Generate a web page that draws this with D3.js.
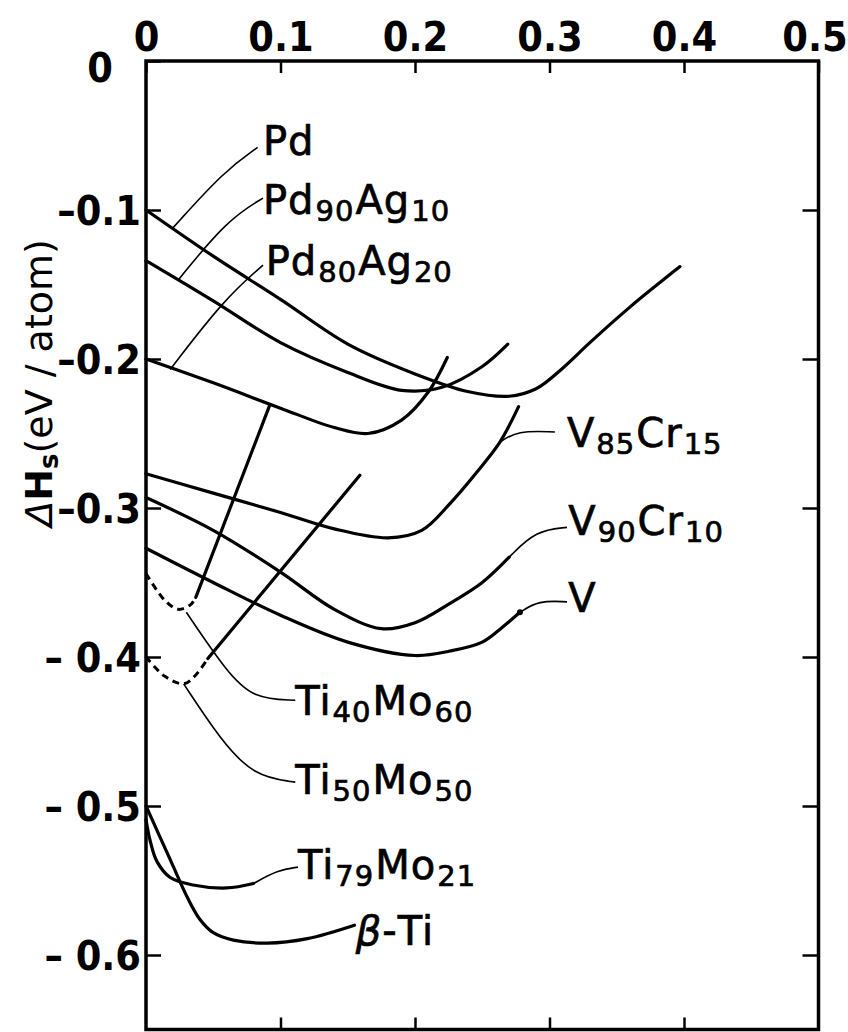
<!DOCTYPE html>
<html><head><meta charset="utf-8">
<script src="https://cdn.jsdelivr.net/npm/d3@7"></script>
<style>body{margin:0;background:#fff}svg{display:block}</style>
</head><body><svg id="c" width="848" height="1032"></svg>
<script>
// ---- axis ticks ----
const xTicks = [0, 0.1, 0.2, 0.3, 0.4, 0.5];
const xTickLabels = ["0", "0.1", "0.2", "0.3", "0.4", "0.5"];
const yTicks = [0, -0.1, -0.2, -0.3, -0.4, -0.5, -0.6];
const yTickLabels = ["0", "–0.1", "–0.2", "–0.3", "– 0.4", "– 0.5", "– 0.6"];

// ---- series (x = hydrogen content, y = ΔHs in eV/atom) ----
const pd = [[0,-0.100],[0.05,-0.131],[0.10,-0.160],[0.15,-0.190],[0.20,-0.210],[0.24,-0.222],[0.27,-0.225],[0.29,-0.220],[0.31,-0.206],[0.33,-0.189],[0.36,-0.165],[0.397,-0.138]];
const pd90ag10 = [[0,-0.134],[0.05,-0.161],[0.10,-0.189],[0.15,-0.209],[0.19,-0.221],[0.22,-0.219],[0.25,-0.205],[0.269,-0.190]];
const pd80ag20 = [[0,-0.200],[0.05,-0.216],[0.10,-0.233],[0.14,-0.246],[0.165,-0.250],[0.19,-0.241],[0.21,-0.222],[0.224,-0.199]];
const v85cr15 = [[0,-0.277],[0.05,-0.290],[0.10,-0.303],[0.14,-0.314],[0.18,-0.320],[0.205,-0.315],[0.226,-0.297],[0.245,-0.277],[0.263,-0.256],[0.277,-0.232]];
const v90cr10 = [[0,-0.293],[0.05,-0.315],[0.10,-0.343],[0.14,-0.368],[0.175,-0.381],[0.20,-0.377],[0.226,-0.364],[0.25,-0.350],[0.27,-0.333]];
const vPure = [[0,-0.327],[0.05,-0.350],[0.10,-0.372],[0.15,-0.390],[0.20,-0.399],[0.226,-0.396],[0.25,-0.390],[0.265,-0.380],[0.278,-0.370]];
const ti40mo60Dashed = [[0,-0.344],[0.014,-0.362],[0.024,-0.368],[0.033,-0.365],[0.037,-0.360]];
const ti40mo60Solid = [[0.037,-0.360],[0.092,-0.231]];
const ti50mo50Dashed = [[0,-0.400],[0.014,-0.413],[0.028,-0.418],[0.036,-0.413],[0.046,-0.401]];
const ti50mo50Solid = [[0.046,-0.401],[0.159,-0.278]];
const ti79mo21 = [[0,-0.509],[0.003,-0.523],[0.008,-0.537],[0.018,-0.548],[0.035,-0.553],[0.06,-0.555],[0.08,-0.552]];
const betaTi = [[0,-0.500],[0.01,-0.520],[0.02,-0.540],[0.03,-0.560],[0.04,-0.576],[0.05,-0.585],[0.065,-0.590],[0.09,-0.592],[0.12,-0.589],[0.155,-0.580]];

// ---- leader lines (data units) ----
const leaders = [
  [[0.020,-0.112],[0.058,-0.074],[0.083,-0.058]],
  [[0.024,-0.147],[0.060,-0.107],[0.087,-0.092]],
  [[0.018,-0.207],[0.058,-0.160],[0.087,-0.137]],
  [[0.263,-0.256],[0.276,-0.248],[0.304,-0.249]],
  [[0.270,-0.333],[0.290,-0.315],[0.313,-0.313]],
  [[0.278,-0.370],[0.292,-0.362],[0.313,-0.363]],
  [[0.030,-0.370],[0.060,-0.410],[0.080,-0.428],[0.111,-0.429]],
  [[0.028,-0.418],[0.055,-0.455],[0.080,-0.480],[0.111,-0.484]],
  [[0.080,-0.552],[0.098,-0.543],[0.113,-0.541]]
];

// ---- labels: parts [text, kind] kind 0 normal, 1 subscript, 2 italic ----
const labelNames = [
  [["Pd",0]],
  [["Pd",0],["90",1],["Ag",0],["10",1]],
  [["Pd",0],["80",1],["Ag",0],["20",1]],
  [["V",0],["85",1],["Cr",0],["15",1]],
  [["V",0],["90",1],["Cr",0],["10",1]],
  [["V",0]],
  [["Ti",0],["40",1],["Mo",0],["60",1]],
  [["Ti",0],["50",1],["Mo",0],["50",1]],
  [["Ti",0],["79",1],["Mo",0],["21",1]],
  [["β",2],["-Ti",0]]
];
const labelAnchors = [[0.087,-0.063],[0.087,-0.103],[0.089,-0.1435],[0.313,-0.259],[0.314,-0.318],[0.314,-0.370],[0.111,-0.439],[0.111,-0.492],[0.113,-0.549],[0.156,-0.593]];

// ---- drawing ----
const svg = d3.select("#c");
const x = d3.scaleLinear().domain([0, 0.5]).range([146, 818.5]);
const y = d3.scaleLinear().domain([0, -0.65]).range([61, 1029.5]);

const tickFont = '"DejaVu Sans Condensed","Liberation Sans Narrow","DejaVu Sans",sans-serif';

const gTop = svg.append("g").attr("transform", `translate(0,${y(0)})`)
  .call(d3.axisTop(x).tickValues(xTicks).tickFormat((d,i)=>xTickLabels[i]).tickSizeInner(-12).tickSizeOuter(0).tickPadding(10));
const gBot = svg.append("g").attr("transform", `translate(0,${y(-0.65)})`)
  .call(d3.axisBottom(x).tickValues(xTicks.slice(1,5)).tickFormat("").tickSizeInner(-12).tickSizeOuter(0));
const gLeft = svg.append("g").attr("transform", `translate(${x(0)},0)`)
  .call(d3.axisLeft(y).tickValues(yTicks).tickFormat((d,i)=>yTickLabels[i]).tickSizeInner(-15).tickSizeOuter(0).tickPadding(5));
const gRight = svg.append("g").attr("transform", `translate(${x(0.5)},0)`)
  .call(d3.axisRight(y).tickValues(yTicks.slice(1)).tickFormat("").tickSizeInner(-16).tickSizeOuter(0));

[gTop,gBot,gLeft,gRight].forEach(g=>{
  g.select(".domain").remove();
  g.selectAll(".tick line").attr("stroke","#000").attr("stroke-width",2.5);
  g.selectAll(".tick text").attr("fill","#000").style("font-family",tickFont)
   .style("font-weight","bold").style("font-stretch","condensed").style("font-size","41px");
});
gTop.selectAll(".tick text").attr("dy","0");
gTop.selectAll(".tick text").filter(d=>d===0.5).attr("dx",-4);
gLeft.selectAll(".tick text").attr("dy","0.36em");
gLeft.selectAll(".tick text").filter(d=>d===0).attr("dx",-28).attr("dy","0.5em");

// frame
svg.append("rect").attr("x",x(0)).attr("y",y(0)).attr("width",x(0.5)-x(0)).attr("height",y(-0.65)-y(0))
  .attr("fill","none").attr("stroke","#000").attr("stroke-width",3.5);

// y-axis title
const yt = svg.append("text").attr("transform","translate(52,383) rotate(-90)")
  .attr("text-anchor","middle").style("font-family",'"DejaVu Sans",sans-serif').style("font-size","38px").attr("fill","#000");
yt.append("tspan").text("Δ").style("font-style","italic");
yt.append("tspan").text("H").style("font-weight","bold");
yt.append("tspan").text("s").attr("dy",6).style("font-size","26px").style("font-weight","bold");
yt.append("tspan").text("(eV / atom)").attr("dy",-6);

// curves
const smooth = d3.line().x(d=>x(d[0])).y(d=>y(d[1])).curve(d3.curveCatmullRom.alpha(0.5));
const straight = d3.line().x(d=>x(d[0])).y(d=>y(d[1]));
const basis = d3.line().x(d=>x(d[0])).y(d=>y(d[1])).curve(d3.curveBasis);

const solidSeries = [pd, pd90ag10, pd80ag20, v85cr15, v90cr10, vPure, ti79mo21, betaTi];
svg.append("g").selectAll("path").data(solidSeries).join("path")
  .attr("d", smooth).attr("fill","none").attr("stroke","#000").attr("stroke-width",3.2)
  .attr("stroke-linecap","round").attr("stroke-linejoin","round");
svg.append("g").selectAll("path").data([ti40mo60Solid, ti50mo50Solid]).join("path")
  .attr("d", straight).attr("fill","none").attr("stroke","#000").attr("stroke-width",3.2).attr("stroke-linecap","round");
svg.append("g").selectAll("path").data([ti40mo60Dashed, ti50mo50Dashed]).join("path")
  .attr("d", smooth).attr("fill","none").attr("stroke","#000").attr("stroke-width",3)
  .attr("stroke-dasharray","7,5");

// end dot on V curve
svg.append("circle").attr("cx",x(vPure[vPure.length-1][0])).attr("cy",y(vPure[vPure.length-1][1])).attr("r",3).attr("fill","#000");

// leaders
svg.append("g").selectAll("path").data(leaders).join("path")
  .attr("d", basis).attr("fill","none").attr("stroke","#000").attr("stroke-width",1.6);

// labels
const lg = svg.append("g").style("font-family",'"DejaVu Sans",sans-serif').attr("fill","#000")
  .attr("stroke","#000").attr("stroke-width",0.7).style("letter-spacing","1px");
labelNames.forEach((parts,i)=>{
  const t = lg.append("text").attr("x",x(labelAnchors[i][0])).attr("y",y(labelAnchors[i][1]))
    .style("font-size","40px");
  let prevSub = false;
  parts.forEach(([s,kind])=>{
    const sp = t.append("tspan").text(s);
    if (kind===1){ sp.style("font-size","29px").attr("dy",prevSub?0:7).attr("dx",1); prevSub=true; }
    else { if(prevSub){ sp.attr("dy",-7).attr("dx",1);} prevSub=false; if(kind===2) sp.style("font-style","italic"); }
  });
});
</script>
</body></html>
